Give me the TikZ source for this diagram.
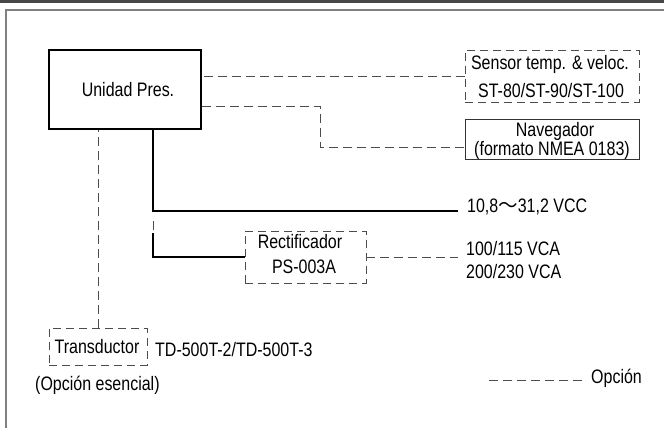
\documentclass[tikz,border=0pt]{standalone}
\usepackage{fontspec}
\setmainfont[FakeStretch=0.82]{Liberation Sans}
\newfontfamily\cjk{Noto Sans CJK JP}
\begin{document}
\begin{tikzpicture}[x=1pt,y=-1pt,
  every node/.style={font=\fontsize{19.5}{21}\selectfont, text=black, inner sep=0pt},
  opt/.style={draw=black!70, line width=0.9pt, dash pattern=on 9pt off 5pt},
  optbox/.style={draw=black!70, line width=0.9pt, dash pattern=on 8pt off 5pt, rectangle},
  pwr/.style={draw=black, line width=1.5pt},
  mainbox/.style={draw=black, line width=1.4pt, rectangle},
  solidbox/.style={draw=black!80, line width=1pt, rectangle},
  lbl/.style={anchor=base west},
  ctr/.style={anchor=base}]
\useasboundingbox (0,0) rectangle (664,428);
% frame
\fill[black!72] (0,0) rectangle (664,3.3);
\draw[black!50, line width=2pt] (5.5,428) -- (5.5,10.5) -- (664,10.5);
% boxes
\node[mainbox, minimum width=152pt, minimum height=79pt] (unidad) at (125,89.5) {};
\node[ctr] (unidadt) at (128,96.7) {Unidad Pres.};
\node[optbox, minimum width=174pt, minimum height=52pt] (sensor) at (552,76) {};
\node[ctr] (sensort1) at (550,70) {Sensor temp. \& veloc.};
\node[ctr] (sensort2) at (551,97) {ST-80/ST-90/ST-100};
\node[solidbox, minimum width=174pt, minimum height=40pt] (nav) at (552,139) {};
\node[ctr] (navt1) at (555,136.5) {Navegador};
\node[ctr] (navt2) at (552,155) {(formato NMEA 0183)};
\node[optbox, minimum width=121pt, minimum height=52pt] (rect) at (305.5,257) {};
\node[ctr] (rectt1) at (300,248) {Rectificador};
\node[ctr] (rectt2) at (304,273) {PS-003A};
\node[optbox, minimum width=98pt, minimum height=37pt] (trans) at (98,346.5) {};
\node[ctr] (transt) at (97,353) {Transductor};
% labels
\node[lbl] (tdl) at (155,356.5) {TD-500T-2/TD-500T-3};
\node[lbl] (esen) at (35,390) {(Opción esencial)};
\node[lbl] (vcc) at (467,212) {10,8{\cjk ～}31,2 VCC};
\node[lbl] (vca1) at (466,255) {100/115 VCA};
\node[lbl] (vca2) at (466,278) {200/230 VCA};
\node[lbl] (leg) at (591,383) {Opción};
% coordinates
\coordinate (n1) at (320,106);
\coordinate (j) at (153,211);
\coordinate (k) at (153,233);
\coordinate (vccend) at (458,211);
\coordinate (vcaend) at (458,257);
\coordinate (l1) at (489,380);
\coordinate (l2) at (583,380);
% connectors
\draw[opt] (sensor.west) -- (sensor.west -| unidad.east);
\draw[opt] (unidad.east |- n1) -- (n1) |- ([yshift=-8pt]nav.west);
\draw[opt] (trans.north) -- (trans.north |- unidad.south);
\draw[pwr] (j |- unidad.south) -- (j) -- (vccend);
\draw[black!70, line width=0.9pt, dash pattern=on 0pt off 10pt on 9pt off 10pt] (j) -- (k);
\draw[pwr] (k) |- (rect.west);
\draw[opt] (rect.east) -- (vcaend);
\draw[opt] (l1) -- (l2);
\end{tikzpicture}
\end{document}
